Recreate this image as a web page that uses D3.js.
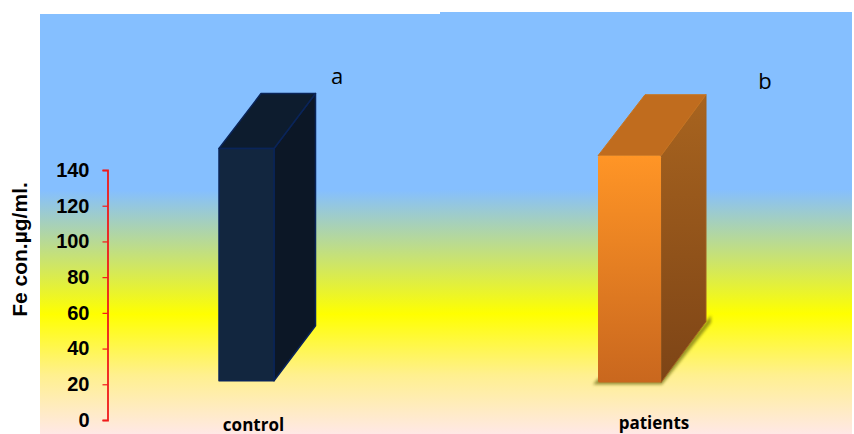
<!DOCTYPE html>
<html><head><meta charset="utf-8">
<script src="https://cdn.jsdelivr.net/npm/d3@7"></script>
<style>html,body{margin:0;padding:0;background:#fff}svg{display:block}</style></head>
<body><svg id="c" width="854" height="434"></svg>
<script>
const categories = ["control", "patients"];
const barTops = [152, 148];
const barBases = [22, 21];
const letters = ["a", "b"];
const yTicks = [0, 20, 40, 60, 80, 100, 120, 140];
const yTitle = "Fe con.µg/ml.";

const svg = d3.select("#c");
const defs = svg.append("defs");

const bgStops = [[0, "#85bfff"], [0.42, "#85bfff"], [0.715, "#ffff00"], [0.86, "#fff08f"], [1, "#ffe8e6"]];
const grad = defs.append("linearGradient").attr("id", "bg").attr("x1", 0).attr("x2", 0).attr("y1", 0).attr("y2", 1);
bgStops.forEach(s => grad.append("stop").attr("offset", s[0]).attr("stop-color", s[1]));

function vgrad(id, a, b) {
  const g = defs.append("linearGradient").attr("id", id).attr("x1", 0).attr("x2", 0).attr("y1", 0).attr("y2", 1);
  g.append("stop").attr("offset", 0).attr("stop-color", a);
  g.append("stop").attr("offset", 1).attr("stop-color", b);
}
vgrad("oFront", "#ff9526", "#c9671e");
vgrad("oSide", "#a8641f", "#7d4416");
const blur = defs.append("filter").attr("id", "soft").attr("x", "-20%").attr("y", "-20%").attr("width", "140%").attr("height", "140%");
blur.append("feGaussianBlur").attr("stdDeviation", 1.6);

svg.append("rect").attr("x", 40).attr("y", 14).attr("width", 400).attr("height", 420).attr("fill", "url(#bg)");
svg.append("rect").attr("x", 440).attr("y", 12).attr("width", 412).attr("height", 422).attr("fill", "url(#bg)");

const y = d3.scaleLinear().domain([0, 140]).range([420, 170]);

const axis = d3.axisLeft(y).tickValues(yTicks).tickSize(5).tickPadding(13).tickFormat(d3.format("d"));
const ag = svg.append("g").attr("transform", "translate(107.5,0)").call(axis);
ag.select(".domain").attr("stroke", "#f01a1a").attr("stroke-width", 1.8);
ag.selectAll(".tick line").attr("stroke", "#f01a1a").attr("stroke-width", 1.2);
ag.selectAll(".tick text").attr("fill", "#000").style("font", "bold 20px 'Liberation Sans'");

svg.append("text").attr("transform", "translate(27,249.5) rotate(-90)").attr("text-anchor", "middle")
  .style("font", "bold 21px 'Liberation Sans'").attr("fill", "#000").text(yTitle);

const x = d3.scaleOrdinal().domain(categories).range([219, 598]);
const widths = d3.scaleOrdinal().domain(categories).range([55, 63]);
const depthLeft = d3.scaleOrdinal().domain(categories).range([42, 47]);
const depthRight = d3.scaleOrdinal().domain(categories).range([41.5, 45]);
const depthY = d3.scaleOrdinal().domain(categories).range([55, 61]);
const poly = p => p.map(q => q.join(",")).join(" ");

categories.forEach((c, i) => {
  const x0 = x(c), w = widths(c), dl = depthLeft(c), dr = depthRight(c), dy = depthY(c), t = y(barTops[i]), b = y(barBases[i]);
  const dark = i === 0;
  const g = svg.append("g").attr("stroke-linejoin", "round");
  if (!dark) {
    g.append("polygon").attr("filter", "url(#soft)").attr("fill", "#6d6a10").attr("opacity", 0.7)
      .attr("points", poly([[x0 - 5, b + 2], [x0 + w + 1, b + 2], [x0 + w + dr + 5, b - dy + 1], [x0 + w + dr + 5, b - dy - 6], [x0 + w, b - 6], [x0, b - 4]]));
  }
  const sideFill = dark ? "#0c1726" : "url(#oSide)";
  const topFill = dark ? "#0d1c2e" : "#c06c1e";
  const frontFill = dark ? "#12263f" : "url(#oFront)";
  g.append("polygon").attr("points", poly([[x0 + w, t], [x0 + w + dr, t - dy], [x0 + w + dr, b - dy], [x0 + w, b]]))
    .attr("fill", sideFill).attr("stroke", dark ? "#0a2458" : "#a06020").attr("stroke-width", dark ? 1.5 : 1);
  g.append("polygon").attr("points", poly([[x0, t], [x0 + dl, t - dy], [x0 + w + dr, t - dy], [x0 + w, t]]))
    .attr("fill", topFill).attr("stroke", dark ? "#0a2458" : "#c8741f").attr("stroke-width", dark ? 1.5 : 1);
  g.append("rect").attr("x", x0).attr("y", t).attr("width", w).attr("height", b - t).attr("rx", dark ? 0 : 1.5)
    .attr("fill", frontFill).attr("stroke", dark ? "#0a2458" : "none").attr("stroke-width", 1.5);
});

const catX = d3.scaleOrdinal().domain(categories).range([253.5, 654]);
const catY = d3.scaleOrdinal().domain(categories).range([431, 429]);
svg.selectAll(".cat").data(categories).join("text").attr("class", "cat")
  .attr("x", d => catX(d)).attr("y", d => catY(d)).attr("text-anchor", "middle")
  .style("font", "bold 17px 'Open Sans'").attr("fill", "#000").text(d => d);

const letX = d3.scaleOrdinal().domain(letters).range([337, 765]);
const letY = d3.scaleOrdinal().domain(letters).range([84, 89]);
svg.selectAll(".let").data(letters).join("text").attr("class", "let")
  .attr("x", d => letX(d)).attr("y", d => letY(d)).attr("text-anchor", "middle")
  .style("font", "22px 'Open Sans'").attr("fill", "#000").text(d => d);
</script></body></html>
